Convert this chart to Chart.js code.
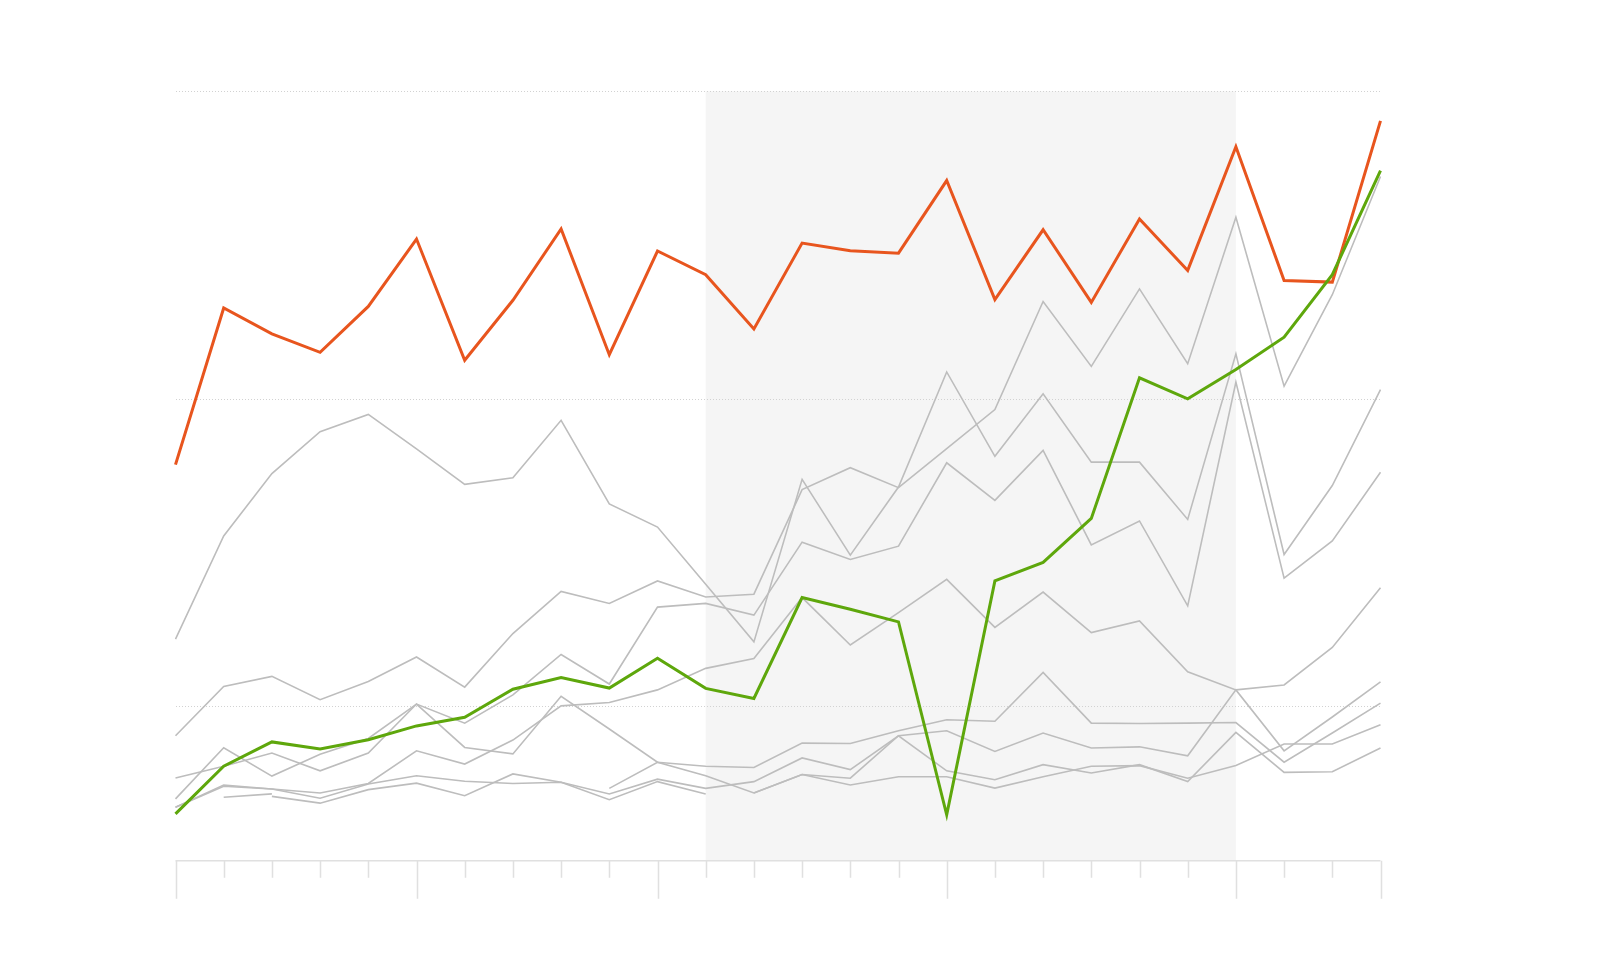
<!DOCTYPE html>
<html>
<head>
<meta charset="utf-8">
<title>Lines</title>
<script src="https://cdn.jsdelivr.net/npm/chart.js@4.4.1/dist/chart.umd.min.js"></script>
<style>
  html, body { margin: 0; padding: 0; background: #ffffff; }
  #wrap { position: relative; width: 1620px; height: 976px; }
</style>
</head>
<body>
<div id="wrap"><canvas id="chart"></canvas></div>
<script>
// x categories (26 periods, no visible labels)
const periods = ["1", "2", "3", "4", "5", "6", "7", "8", "9", "10", "11", "12", "13",
  "14", "15", "16", "17", "18", "19", "20", "21", "22", "23", "24", "25", "26"];

// long tick marks on the x axis, and the shaded band (category indexes)
const majorTicks = [0, 5, 10, 16, 22, 25];
const bandFrom = 11;
const bandTo = 22;

// y gridlines
const yTicks = [100, 200, 300];

// highlighted series
const orangeSeries = [178.7, 229.6, 221.2, 215.2, 230.1, 252.0, 212.6, 232.1, 255.3, 214.4, 248.1, 240.4, 222.8,
  250.7, 248.2, 247.4, 271.0, 232.3, 255.0, 231.4, 258.5, 241.8, 282.0, 238.5, 238.0, 290.4];
const greenSeries = [65.2, 80.7, 88.6, 86.3, 89.3, 93.8, 96.6, 105.7, 109.5, 106.1, 115.8, 106.0, 102.7,
  135.5, 131.7, 127.6, 64.9, 140.9, 146.9, 161.2, 206.9, 200.1, 209.6, 220.1, 240.4, 274.2];

// background (grey) series
const greyA = [122.0, 155.5, 175.8, 189.4, 195.0, 183.8, 172.3, 174.4, 193.1, 165.9, 158.4, 139.8, 121.1,
  173.9, 149.3, 171.4, 208.8, 181.4, 201.7, 179.5, 179.5, 160.9, 214.7, 149.5, 171.9, 203.1];
const greyB = [90.6, 106.6, 109.9, 102.3, 108.2, 116.2, 106.4, 123.8, 137.5, 133.6, 140.9, 135.7, 136.6,
  170.6, 177.7, 171.2, 183.9, 196.6, 231.7, 210.6, 235.8, 211.5, 259.1, 204.2, 233.9, 272.3];
const greyC = [70.1, 86.7, 77.5, 84.6, 89.7, 100.9, 94.7, 103.9, 117.0, 107.4, 132.4, 133.6, 129.8,
  153.5, 147.9, 152.2, 179.3, 167.1, 183.3, 152.6, 160.4, 132.8, 205.5, 141.8, 153.9, 176.2];
const greyD = [67.4, 74.6, 73.3, 72.0, 75.1, 85.7, 81.4, 89.2, 100.3, 101.4, 105.5, 112.5, 115.7,
  135.5, 120.1, 130.6, 141.4, 125.8, 137.3, 124.1, 127.9, 111.4, 105.5, 107.1, 119.3, 138.7];
const greyE = [76.9, 80.7, 85.0, 79.2, 85.0, 100.9, 86.8, 84.7, 103.4, 92.8, 82.0, 77.6, 72.0,
  78.0, 76.8, 90.6, 79.2, 76.3, 81.2, 78.5, 81.2, 75.7, 91.7, 78.7, 78.9, 86.6];
const greyF = [67.4, 74.2, 73.3, 70.3, 74.9, 77.6, 75.8, 75.1, 75.5, 71.7, 76.5, 73.5, 75.7,
  83.4, 79.6, 90.6, 92.2, 85.5, 91.5, 86.6, 87.0, 84.1, 105.5, 85.7, 96.7, 108.1];
const greyG = [null, null, null, null, null, null, null, null, null, 73.5, 82.0, 80.7, 80.3,
  88.2, 88.1, 92.2, 95.8, 95.3, 111.2, 94.7, 94.6, 94.7, 94.9, 82.0, 91.5, 101.2];
const greyH = [null, null, null, null, null, null, null, null, null, null, null, null, 72.0,
  78.0, 74.6, 77.3, 77.3, 73.6, 77.3, 80.7, 80.9, 76.8, 80.9, 87.9, 87.9, 94.2];
const greyI = [null, null, 70.9, 68.7, 73.1, 75.2, 71.1, 78.2, 75.5, 69.8, 75.7, 71.7, null,
  null, null, null, null, null, null, null, null, null, null, null, null, null];
const greyJ = [null, 70.6, 71.7, null, null, null, null, null, null, null, null, null, null,
  null, null, null, null, null, null, null, null, null, null, null, null, null];

const greySeries = [greyA, greyB, greyC, greyD, greyE, greyF, greyG, greyH, greyI, greyJ];

const ORANGE = "#e8551e";
const GREEN = "#5ea70c";
const GREY = "#bdbdbd";
const LINE_GREY = "#e0e0e0";

// shaded period behind the lines
const bandPlugin = {
  id: "band",
  beforeDraw(chart) {
    const { ctx, chartArea, scales } = chart;
    const x0 = scales.x.getPixelForValue(bandFrom);
    const x1 = scales.x.getPixelForValue(bandTo);
    ctx.save();
    ctx.fillStyle = "#f5f5f5";
    ctx.fillRect(x0, chartArea.top, x1 - x0, chartArea.bottom - chartArea.top);
    ctx.restore();
  }
};

// bottom axis line with short and long ticks
const axisPlugin = {
  id: "axisTicks",
  afterDraw(chart) {
    const { ctx, chartArea, scales } = chart;
    const y = chartArea.bottom;
    ctx.save();
    ctx.strokeStyle = LINE_GREY;
    ctx.lineWidth = 1.5;
    ctx.beginPath();
    ctx.moveTo(scales.x.getPixelForValue(0), y);
    ctx.lineTo(scales.x.getPixelForValue(periods.length - 1), y);
    ctx.stroke();
    ctx.beginPath();
    periods.forEach((p, i) => {
      const x = Math.round(scales.x.getPixelForValue(i)) + 0.5;
      const len = majorTicks.includes(i) ? 38 : 17;
      ctx.moveTo(x, y);
      ctx.lineTo(x, y + len);
    });
    ctx.stroke();
    ctx.restore();
  }
};

const datasets = [
  { label: "green", data: greenSeries, borderColor: GREEN, borderWidth: 3 },
  { label: "orange", data: orangeSeries, borderColor: ORANGE, borderWidth: 3 }
];
greySeries.forEach((s, i) => {
  datasets.push({ label: "grey " + (i + 1), data: s, borderColor: GREY, borderWidth: 1.6 });
});

new Chart(document.getElementById("chart"), {
  type: "line",
  data: { labels: periods, datasets: datasets },
  options: {
    responsive: true,
    maintainAspectRatio: false,
    animation: false,
    layout: {
      autoPadding: false,
      padding: { left: 175.5, right: 239.5, top: 91.3, bottom: 115.3 }
    },
    elements: {
      point: { radius: 0, hoverRadius: 0 },
      line: { tension: 0, borderJoinStyle: "miter", fill: false }
    },
    plugins: {
      legend: { display: false },
      tooltip: { enabled: false }
    },
    scales: {
      x: {
        display: false,
        offset: false
      },
      y: {
        min: 50,
        max: 300,
        afterBuildTicks(scale) {
          scale.ticks = yTicks.map(v => ({ value: v }));
        },
        ticks: { display: false },
        // v4 puts the grid line dash under border
        border: { display: false, dash: [1, 2] },
        grid: {
          drawTicks: false,
          color: "#d2d2d2",
          lineWidth: 1
        }
      }
    }
  },
  plugins: [bandPlugin, axisPlugin]
});
</script>
</body>
</html>
